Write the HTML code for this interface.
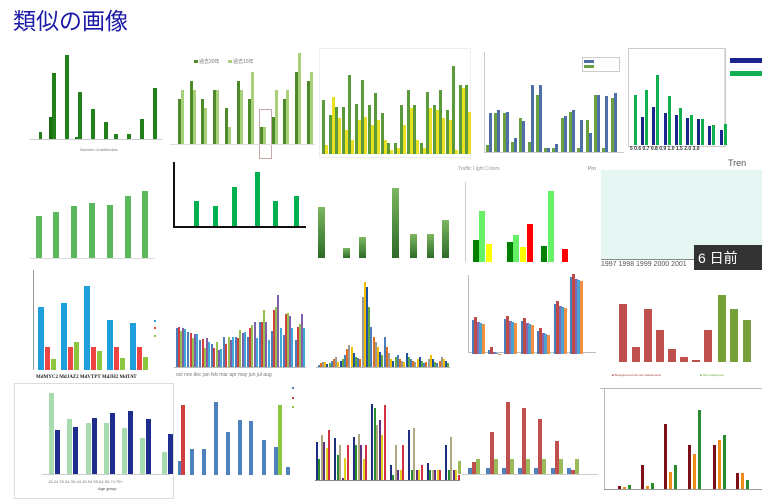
<!DOCTYPE html>
<html><head><meta charset="utf-8"><style>
html,body{margin:0;padding:0;background:#fff;width:762px;height:504px;overflow:hidden;position:relative;font-family:"Liberation Sans","Noto Sans CJK JP",sans-serif}
.a{position:absolute}
.t{position:absolute;font-size:5px;color:#777;white-space:nowrap}
</style></head><body>
<div class="a" style="left:13px;top:2px;font-size:23px;color:#1a1aa6;font-family:'Liberation Sans','Noto Sans CJK JP',sans-serif">類似の画像</div>

<div class="a" style="left:173px;top:162px;width:2px;height:66px;background:#111"></div>
<div class="a" style="left:173px;top:226px;width:133px;height:2px;background:#111"></div>
<div class="a" style="left:628px;top:48px;width:96px;height:97px;border:1px solid #ccc"></div>
<div class="a" style="left:724px;top:48px;width:1px;height:100px;background:#ddd"></div>
<div class="a" style="left:730px;top:58px;width:32px;height:5px;background:#1a2590"></div>
<div class="a" style="left:730px;top:71px;width:32px;height:5px;background:#10b050"></div>
<div class="a" style="left:601px;top:170px;width:161px;height:89px;background:#e6f6f2"></div>
<div class="a" style="left:601px;top:259px;width:161px;height:1px;background:#888"></div>
<div class="t" style="left:601px;top:261px;font-size:7px;color:#555">1997 1998 1999 2000 2001</div>
<div class="t" style="left:728px;top:158px;font-size:9px;color:#555">Tren</div>
<div class="t" style="left:588px;top:166px;font-size:5px">Pro</div>
<div class="t" style="left:458px;top:166px;font-size:5px;color:#999">Traffic Light Colors</div>
<div class="a" style="left:694px;top:245px;width:68px;height:25px;background:#333"></div>
<div class="t" style="left:698px;top:248px;font-size:14px;color:#fff">6 日前</div>
<div class="a" style="left:259px;top:109px;width:11px;height:48px;border:1px solid #c9a8a8"></div>
<div class="a" style="left:14px;top:383px;width:158px;height:114px;border:1px solid #ddd"></div>
<div class="a" style="left:600px;top:388px;width:162px;height:1px;background:#bbb"></div>
<div class="a" style="left:604px;top:388px;width:1px;height:101px;background:#bbb"></div>
<div class="a" style="left:582px;top:57px;width:36px;height:13px;border:1px solid #ccc;background:#fff"></div>
<div class="a" style="left:584px;top:60px;width:10px;height:3px;background:#4f6fa8"></div>
<div class="a" style="left:584px;top:65px;width:10px;height:3px;background:#6aa040"></div>
<div class="a" style="left:194px;top:60px;width:4px;height:3px;background:#4f8a2a"></div>
<div class="t" style="left:199px;top:58px;font-size:5px">過去20年</div>
<div class="a" style="left:228px;top:60px;width:4px;height:3px;background:#a8d078"></div>
<div class="t" style="left:233px;top:58px;font-size:5px">過去10年</div>
<div class="t" style="left:630px;top:146px;font-size:5px;color:#333;font-weight:bold">5 0.6 0.7 0.8 0.9 1.0 1.5 2.0 3.0</div>
<div class="t" style="left:36px;top:375px;font-size:5px;color:#222;font-weight:bold;font-family:'Liberation Serif',serif">MdMYC2 MdJAZ2 MdVTPT MdJH2 MdTAT</div>
<div class="t" style="left:176px;top:372px;font-size:5px">oct nov dec jan feb mar apr may jun jul aug</div>
<div class="t" style="left:48px;top:479px;font-size:4px">16-24 25-34 35-44 45-54 55-64 65-74 75+</div>
<div class="t" style="left:98px;top:486px;font-size:4px;color:#444">Age group</div>
<div class="t" style="left:80px;top:147px;font-size:4px">Number of antibiotics</div>
<div class="t" style="left:612px;top:373px;font-size:3px;color:#a44">■ Biological and Human Relationship</div>
<div class="t" style="left:700px;top:373px;font-size:3px;color:#6a3">■ Non-Indigenous</div>
<div class="a" style="left:319px;top:48px;width:150px;height:108px;border:1px solid #eee"></div>

<div id="c"></div>
<script>
var h='';
function b(x,t,bot,w,c){h+='<div class="a" style="left:'+x+'px;top:'+t+'px;width:'+w+'px;height:'+Math.max(1,bot-t)+'px;background:'+c+'"></div>';}
function L(x,y,w,hh,c){b(x,y,y+hh,w,c);}
L(30,139,132,1,'#ccc');
[[39,132,3],[49,117,5,'#1a6e10'],[52,73,4],[65,55,4],[75,137,3],[78,92,4],[91,109,4],[104,122,4],[114,134,4],[127,134,4],[140,119,4],[153,88,4]].forEach(function(a){b(a[0],a[1],139,a[2],a[3]||'#23801a')});
var B=[[99,90],[81,90],[99,108],[90,90],[108,127],[81,90],[99,72],[127,127],[117,90],[99,90],[72,53],[81,72]];
B.forEach(function(p,i){var x=178+i*11.7;b(Math.round(x),p[0],144,3,'#4f8a2a');b(Math.round(x)+3,p[1],144,3,'#a8d078');});
L(170,144,145,1,'#ddd');
var Cg=[100,115,107,107,75,104,80,105,93,113,143,143,105,90,105,143,92,105,90,110,66,85,85],Cy=[145,97,118,130,140,120,117,125,120,140,150,148,125,108,140,148,108,110,118,120,150,88,112];
Cg.forEach(function(g,i){var x=322+i*6.5;b(Math.round(x),g,154,3,'#5a9a3a');b(Math.round(x)+3,Cy[i],154,3,'#e8e020');});
var Db=[113,110,112,138,121,85,85,148,144,116,110,120,133,95,96,93],Dg=[145,113,113,142,118,142,95,148,148,118,112,148,120,95,148,98];
L(484,152,140,1,'#ccc');L(484,52,1,100,'#ccc');
Db.forEach(function(v,i){var x=486+i*8.3;b(Math.round(x),Dg[i],152,3,'#6aa040');b(Math.round(x)+3,v,152,3,'#4f6fa8');});
var E=[[null,95],[117,90],[107,75],[113,96],[115,108],[118,115],[119,119],[126,125],[130,124]];
E.forEach(function(p,i){var x=630+i*11.2;if(p[0])b(Math.round(x),p[0],145,3,'#1a2590');b(Math.round(x)+4,p[1],145,3,'#10b050');});
[216,212,206,203,205,196,191].forEach(function(t,i){b(36+i*17.8|0,t,258,6,'#5cb85c')});
L(30,258,125,1,'#ddd');
[[194,201],[213,206],[232,187],[255,172],[273,201],[294,196]].forEach(function(a){b(a[0],a[1],226,5,'#00b050')});
[[318,207],[343,248],[359,237],[392,188],[410,234],[427,234],[442,220]].forEach(function(a){h+='<div class="a" style="left:'+a[0]+'px;top:'+a[1]+'px;width:7px;height:'+(258-a[1])+'px;background:linear-gradient(#7cb860,#2e6a28)"></div>'});
L(465,182,1,80,'#ccc');
[[473,240,'#008000'],[479,211,'#66f066'],[486,244,'#ffff00'],[507,242,'#008000'],[513,235,'#66f066'],[520,247,'#ffff00'],[527,224,'#ff0000'],[541,246,'#008000'],[548,191,'#66f066'],[562,249,'#ff0000']].forEach(function(a){b(a[0],a[1],262,6,a[2])});
L(33,270,1,100,'#999');
[[38,307],[61,303],[84,286],[107,320],[130,323]].forEach(function(a,i){b(a[0],a[1],370,6,'#1fa0dd');b(a[0]+7,347,370,5,'#ee4444');b(a[0]+13,[359,342,351,358,357][i],370,5,'#8cc63f');});
b(154,320,322,2,'#1fa0dd');b(154,327,329,2,'#ee4444');b(154,335,337,2,'#8cc63f');
var M=[[52,53,48,52,50],[46,45,38,44,44],[36,37,25,38,33],[30,25,33,22,24],[40,30,40,36,40],[40,38,49,45,46],[40,51,56,60,38],[60,60,75,60,36],[47,76,79,95,52],[42,70,72,68,52],[36,53,57,70,51]],Mc=['#4a7ebb','#d04040','#98c050','#8060a8','#40a8d8'];
L(174,367,132,1,'#bbb');
M.forEach(function(g,i){g.forEach(function(v,j){b(176+i*11.9+j*2.2|0,367-v*0.75|0,367,2,Mc[j])})});
var Nc=['#4a7ebb','#e07020','#999','#f0c000','#2050a0','#60a840'];
var Nv=[2,4,5,5,3,4,6,8,10,5,6,8,12,18,22,20,14,10,9,8,70,85,80,60,40,30,25,20,15,12,30,20,14,8,6,10,12,8,6,5,14,10,8,6,5,8,10,6,4,5,8,12,8,5,4,6,10,8,6,4];
L(316,367,134,1,'#bbb');
Nv.forEach(function(v,i){b(318+i*2.2|0,367-v|0,367,2,Nc[i%6])});
L(468,352,128,1,'#bbb');L(468,275,1,78,'#bbb');
[320,350,319,321,331,304,277].forEach(function(t,i){var x=472+i*16.4|0;['#4a7ebb','#be4b48','#8a68b0','#4aa0d0','#f09040'].forEach(function(c,j){b(x+j*2.6|0,t+(j==1?-3:j*1),354,3,c)})});
[[619,304],[632,347],[644,309],[656,330],[668,349],[680,357],[692,360],[704,330]].forEach(function(a){b(a[0],a[1],362,8,'#c0504d')});
[[718,295],[730,309],[743,320]].forEach(function(a){b(a[0],a[1],362,8,'#77a03a')});
[[19,10.3],[12.8,11],[11.8,13],[11.8,14.3],[10.7,14.8],[8.3,12.8],[5,9.4]].forEach(function(p,i){var x=[49,67,86,104,122,140,162][i];b(x,474-p[0]*4.25|0,474,5,'#a8dcb0');b(x+6,474-p[1]*4.25|0,474,5,'#1f2d8f')});
L(42,474,128,1,'#ccc');
[[178,461,'#4f81bd'],[181,405,'#d04040'],[190,449,'#4f81bd'],[202,449,'#4f81bd'],[214,402,'#4f81bd'],[226,432,'#4f81bd'],[238,420,'#4f81bd'],[249,421,'#4f81bd'],[262,440,'#4f81bd'],[274,447,'#4f81bd'],[278,405,'#8cc63f'],[286,467,'#4f81bd']].forEach(function(a){b(a[0],a[1],475,4,a[2])});
b(292,387,389,2,'#4f81bd');b(292,397,399,2,'#d04040');b(292,406,408,2,'#8cc63f');
var Sc=['#1f2d7f','#2a8a30','#b0a880','#603080','#e0d020','#d03040'];
var Sv=[[442,459,435,442,448,430],[438,455,445,478,458,445],[437,445,434,445,459,445],[404,408,425,420,435,405],[465,475,445,470,470,445],[430,470,428,470,470,465],[463,470,470,470,470,470],[445,470,437,470,470,475]];
L(315,480,145,1,'#888');
Sv.forEach(function(g,i){g.forEach(function(t,j){b(316+i*18.5+j*2.5|0,t,480,2,Sc[j])})});
L(462,474,136,1,'#ccc');
[[468,462],[486,432],[502,402],[518,408],[534,419],[551,441],[567,470]].forEach(function(a){b(a[0],468,474,4,'#4f81bd');b(a[0]+4,a[1],474,4,'#c0504d');b(a[0]+8,459,474,4,'#9bbb59')});
b(458,461,474,3,'#9bbb59');
L(604,489,158,1,'#999');
[[486,487,485],[465,486,483],[424,472,465],[445,454,410],[445,440,435],[473,473,480]].forEach(function(g,i){var x=[618,641,664,688,713,736][i];['#7b1018','#f08a18','#2a8a30'].forEach(function(c,j){b(x+j*5,g[j],489,3,c)})});
document.getElementById('c').innerHTML=h;
</script>
</body></html>
